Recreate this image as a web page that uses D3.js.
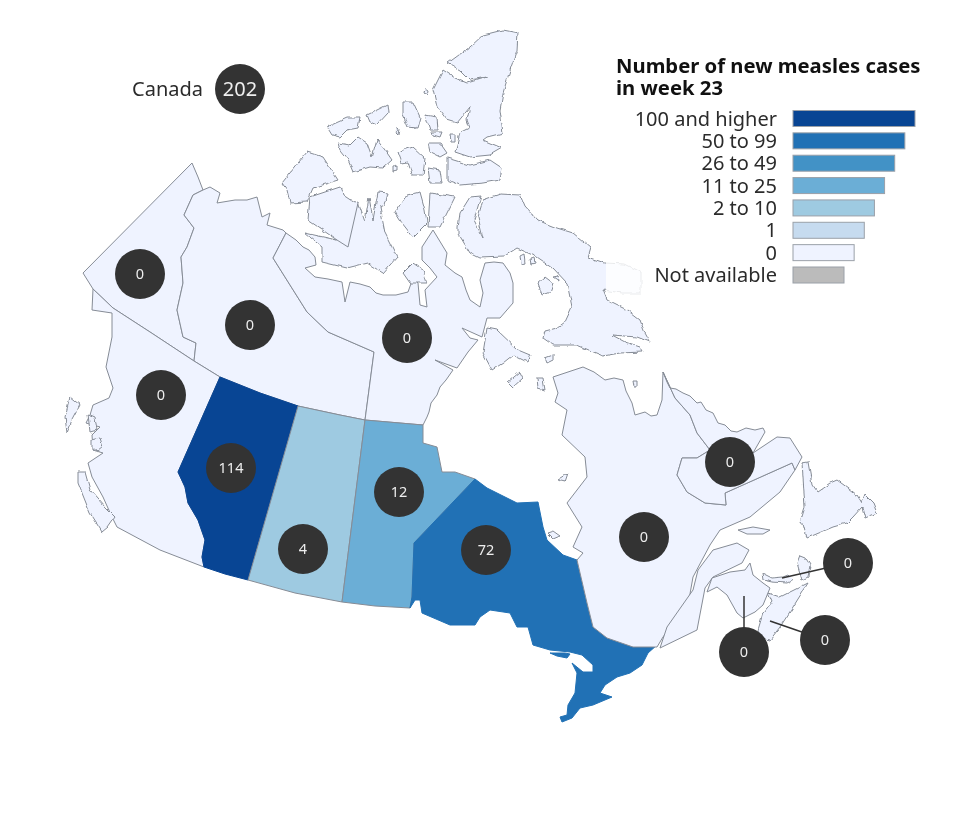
<!DOCTYPE html>
<html>
<head>
<meta charset="utf-8">
<style>
  html, body { margin: 0; padding: 0; background: #fff; }
  text { font-family: "Noto Sans", "Open Sans", sans-serif; }
  svg { filter: blur(0.35px); }
</style>
</head>
<body>
<div id="canvas"></div>
<script src="https://d3js.org/d3.v7.min.js"></script>
<script>
// cases per province
const provinces = ["Yukon", "Northwest Territories", "Nunavut", "British Columbia", "Alberta", "Saskatchewan", "Manitoba", "Ontario", "Quebec", "Newfoundland and Labrador", "Nova Scotia", "New Brunswick", "Prince Edward Island"]
const provinceCases = [0, 0, 0, 0, 114, 4, 12, 72, 0, 0, 0, 0, 0]
const canadaCases = 202

const legendTitle = ["Number of new measles cases", "in week 23"]
const legendLabels = ["100 and higher", "50 to 99", "26 to 49", "11 to 25", "2 to 10", "1", "0", "Not available"]
const legendColors = ["#084594", "#2171b5", "#4292c6", "#6baed6", "#9ecae1", "#c6dbef", "#eff3ff", "#bbbbbb"]
const caseBreaks = [1, 2, 11, 26, 50, 100]

// map outlines, traced in map units
const yukon = [[[192,163],[198,177],[203,190],[193,195],[184,215],[194,228],[187,247],[181,257],[183,283],[177,310],[183,337],[196,343],[194,361],[150,332],[113,308],[93,289],[83,273]]]
const nwt = [
  [[203,190],[210,187],[220,193],[217,203],[235,200],[247,200],[257,197],[262,217],[270,213],[267,225],[283,230],[286,233],[273,258],[307,312],[328,332],[374,352],[365,420],[340,415],[298,406],[260,393],[220,377],[194,361],[196,343],[183,337],[177,310],[183,283],[181,257],[187,247],[194,228],[184,215],[193,195]],
  [[282,183],[307,152],[323,157],[338,180],[313,188],[307,202],[290,203],[287,190]]
]
const nunavut = [
  [[286,233],[296,240],[303,247],[309,250],[315,257],[316,265],[305,268],[315,277],[328,279],[342,282],[345,302],[350,282],[360,284],[370,287],[376,293],[383,295],[396,295],[408,292],[413,278],[418,283],[420,305],[427,307],[425,290],[437,277],[430,268],[422,260],[422,247],[433,230],[447,253],[445,265],[455,273],[462,277],[466,290],[470,300],[480,307],[483,293],[480,280],[485,263],[494,262],[503,263],[510,273],[513,283],[513,303],[500,318],[487,318],[482,337],[462,328],[470,338],[478,340],[468,352],[457,368],[435,360],[453,370],[446,380],[440,387],[437,395],[431,403],[429,412],[427,417],[423,425],[365,420],[374,352],[328,332],[307,312],[273,258]],
  [[310,197],[340,187],[343,195],[355,203],[358,202],[365,222],[369,197],[373,220],[378,192],[388,193],[385,205],[380,207],[385,233],[397,257],[383,273],[367,263],[347,268],[322,262],[322,247],[305,233],[337,240],[308,220]],
  [[327,127],[347,118],[360,118],[358,128],[347,130],[340,137],[332,135]],
  [[338,143],[350,145],[358,137],[367,143],[372,157],[377,140],[385,150],[392,160],[383,168],[370,167],[353,172],[348,160],[340,150]],
  [[367,115],[387,105],[388,113],[377,125],[370,122]],
  [[403,102],[413,102],[420,117],[417,128],[408,127],[403,115]],
  [[425,115],[437,117],[438,130],[430,130]],
  [[432,132],[442,132],[440,137],[433,135]],
  [[398,152],[413,147],[425,158],[423,175],[412,175],[408,162],[402,163]],
  [[428,143],[440,143],[447,153],[440,157],[430,152]],
  [[447,158],[470,165],[490,160],[502,168],[500,180],[483,183],[460,185],[447,180]],
  [[428,168],[440,170],[442,183],[430,183]],
  [[470,47],[483,35],[503,30],[518,33],[517,50],[510,70],[503,93],[500,110],[503,133],[487,137],[483,140],[502,148],[490,155],[470,157],[455,152],[460,133],[470,128],[467,120],[470,107],[457,123],[447,120],[437,107],[433,90],[443,70],[455,78],[467,83],[487,77],[470,80],[460,70],[448,63],[463,52]],
  [[425,88],[428,90],[427,95],[424,93]],
  [[397,127],[399,129],[398,135],[396,133]],
  [[393,166],[397,165],[397,170],[393,171]],
  [[450,135],[455,135],[455,141],[451,141]],
  [[395,212],[407,195],[420,192],[425,210],[427,223],[413,237],[402,223]],
  [[430,193],[455,197],[440,227],[428,227]],
  [[403,273],[413,263],[423,270],[427,283],[410,283]],
  [[458,227],[460,213],[470,197],[481,196],[474,220],[483,238],[478,217],[483,200],[500,194],[520,195],[525,207],[537,220],[557,228],[573,233],[590,247],[587,257],[605,263],[625,264],[641,272],[641,293],[622,293],[603,290],[607,300],[627,310],[640,320],[645,333],[650,342],[637,337],[612,335],[625,342],[640,347],[643,352],[620,353],[603,356],[577,345],[553,345],[543,338],[545,331],[557,328],[565,322],[572,307],[567,283],[553,268],[537,257],[517,248],[503,257],[480,258],[470,253],[458,233]],
  [[538,283],[545,277],[553,283],[550,292],[542,295]],
  [[487,328],[497,330],[518,350],[530,355],[527,362],[513,355],[503,363],[492,370],[483,353]],
  [[537,378],[543,378],[545,390],[538,388]],
  [[508,382],[520,372],[523,378],[513,387]],
  [[545,358],[553,355],[553,360],[547,363]],
  [[557,480],[568,473],[565,482]],
  [[547,533],[553,531],[560,536],[553,539]],
  [[633,381],[637,381],[637,387],[634,387]],
  [[520,256],[524,254],[525,263],[521,264]],
  [[530,259],[534,258],[535,263],[531,264]],
  [[553,277],[558,276],[559,281]]
]
const britishColumbia = [
  [[220,377],[194,361],[150,332],[113,308],[93,289],[92,310],[112,313],[112,337],[106,367],[113,388],[109,398],[93,405],[90,415],[86,423],[100,427],[92,435],[93,450],[103,453],[88,463],[92,477],[103,497],[112,517],[117,527],[160,550],[204,567],[202,557],[205,540],[198,520],[188,503],[185,487],[178,472]],
  [[78,472],[85,472],[90,490],[105,507],[115,517],[108,527],[102,532],[90,513],[78,483]],
  [[70,397],[80,405],[72,420],[67,433],[65,417]],
  [[88,414],[95,417],[97,430],[90,432]],
  [[92,440],[100,438],[103,447],[97,452],[92,448]]
]
const alberta = [[[220,377],[260,393],[298,406],[248,580],[225,574],[204,567],[202,557],[205,540],[198,520],[188,503],[185,487],[178,472]]]
const saskatchewan = [[[298,406],[340,415],[365,420],[342,602],[295,593],[248,580]]]
const manitoba = [[[365,420],[423,425],[423,443],[437,447],[442,472],[455,472],[475,479],[414,543],[412,597],[410,608],[375,606],[342,602]]]
const ontario = [
  [[475,479],[487,488],[507,498],[517,503],[538,502],[543,527],[547,540],[563,555],[577,560],[587,603],[593,627],[607,638],[627,643],[647,642],[657,639],[657,645],[648,653],[642,665],[630,673],[617,677],[605,685],[600,693],[612,697],[593,705],[580,708],[572,718],[562,722],[560,717],[567,715],[568,705],[575,693],[577,673],[572,663],[583,672],[593,672],[593,665],[582,655],[570,652],[550,650],[533,645],[528,627],[517,627],[510,613],[490,610],[480,617],[475,625],[450,625],[422,613],[420,600],[415,600],[410,608],[412,597],[414,543]],
  [[550,653],[565,653],[570,654],[567,658],[557,656]]
]
const quebec = [
  [[577,560],[583,553],[573,547],[582,527],[567,503],[587,477],[585,457],[562,435],[567,410],[555,402],[558,393],[553,377],[583,367],[594,372],[605,380],[614,378],[623,380],[626,391],[632,403],[635,415],[645,412],[651,416],[657,415],[662,400],[663,372],[675,398],[690,415],[697,433],[710,450],[697,458],[682,458],[677,475],[687,492],[705,503],[726,505],[725,493],[792,463],[795,470],[780,492],[750,517],[720,530],[710,545],[693,577],[688,605],[663,637],[657,647],[633,647],[607,638],[593,627],[587,603]],
  [[660,648],[667,627],[693,590],[698,570],[713,550],[737,543],[749,550],[742,563],[713,577],[705,588],[697,630]],
  [[738,530],[753,527],[770,530],[763,534],[747,534]]
]
const labrador = [
  [[663,372],[667,382],[670,388],[676,389],[683,393],[690,396],[697,403],[701,402],[706,410],[713,413],[716,419],[718,423],[725,425],[731,431],[737,432],[746,428],[755,430],[763,428],[765,432],[753,453],[777,437],[790,438],[802,457],[795,470],[792,463],[725,493],[726,505],[705,503],[687,492],[677,475],[682,458],[697,458],[710,450],[697,433],[690,415],[675,398]],
  [[802,463],[808,462],[812,485],[817,492],[830,483],[837,480],[848,488],[857,495],[862,503],[865,495],[873,503],[877,513],[865,518],[862,507],[853,517],[847,523],[833,527],[807,538],[803,523],[800,523],[805,507]]
]
const novaScotia = [
  [[768,593],[780,597],[808,583],[793,607],[780,627],[770,640],[763,638],[758,630],[763,613],[772,602]],
  [[797,563],[800,555],[805,557],[810,565],[808,577],[802,580]]
]
const newBrunswick = [[[712,578],[730,572],[745,570],[750,563],[753,575],[763,583],[770,588],[763,605],[755,612],[743,618],[737,613],[727,595],[717,587],[707,592]]]
const princeEdward = [[[762,573],[772,578],[783,577],[788,575],[793,580],[787,583],[772,582],[763,580]]]
// the territorial line that crosses Victoria Island
const victoriaBorder = [[358,203],[348,247],[337,240]]

const provinceOutlines = [yukon, nwt, nunavut, britishColumbia, alberta, saskatchewan, manitoba, ontario, quebec, labrador, novaScotia, newBrunswick, princeEdward]
// provinces whose every outline is open coast, the others only have it on their islands
const allCoast = ["Nova Scotia", "Prince Edward Island"]
const noRoughCoast = ["Ontario", "Quebec"]

// bubble anchors and leader ends, map units
const bubbleX = [140, 250, 407, 161, 231, 303, 399, 486, 644, 730, 825, 744, 848]
const bubbleY = [274, 325, 338, 395, 468, 549, 492, 550, 537, 462, 640, 652, 563]
const leaderX = [null, null, null, null, null, null, null, null, null, null, 770, 744, 782]
const leaderY = [null, null, null, null, null, null, null, null, null, null, 621, 596, 578]

const width = 959
const height = 813

const mapX = d3.scaleLinear().domain([0, 959]).range([0, width])
const mapY = d3.scaleLinear().domain([0, 813]).range([0, height])
const colorScale = d3.scaleThreshold().domain(caseBreaks).range(legendColors.slice(0, 7).reverse())
const outline = d3.line().x(d => mapX(d[0])).y(d => mapY(d[1]))

const svg = d3.select("#canvas")
    .append("svg")
    .attr("width", width)
    .attr("height", height)
    .style("display", "block")

// crinkle for the island coasts
const rough = svg.append("defs").append("filter")
    .attr("id", "rough")
    .attr("filterUnits", "userSpaceOnUse")
    .attr("x", 0).attr("y", 0).attr("width", width).attr("height", height)
rough.append("feTurbulence")
    .attr("type", "fractalNoise")
    .attr("baseFrequency", 0.13)
    .attr("numOctaves", 2)
    .attr("seed", 4)
    .attr("result", "noise")
rough.append("feDisplacementMap")
    .attr("in", "SourceGraphic")
    .attr("in2", "noise")
    .attr("scale", 4)
    .attr("xChannelSelector", "R")
    .attr("yChannelSelector", "G")

svg.append("rect").attr("width", width).attr("height", height).attr("fill", "#fff")

const regions = svg.selectAll("g.province")
    .data(provinces)
    .enter()
    .append("g")
    .attr("class", "province")
    .attr("fill", (name, i) => colorScale(provinceCases[i]))
    .attr("stroke", (name, i) => provinceCases[i] >= 50 ? colorScale(provinceCases[i]) : "#868c96")
    .attr("stroke-width", 1)
    .attr("stroke-linejoin", "round")

regions.selectAll("path")
    .data((name, i) => provinceOutlines[i].map((ring, j) => ({
        ring: ring,
        coast: !noRoughCoast.includes(name) && (j > 0 || allCoast.includes(name))
    })))
    .enter()
    .append("path")
    .attr("d", d => outline(d.ring) + "Z")
    .attr("filter", d => d.coast ? "url(#rough)" : null)

svg.append("path")
    .attr("d", outline(victoriaBorder))
    .attr("fill", "none")
    .attr("stroke", "#868c96")

// the label halo that washes out the east of Baffin Island
svg.append("rect")
    .attr("x", mapX(606))
    .attr("y", mapY(258))
    .attr("width", mapX(644) - mapX(606))
    .attr("height", mapY(296) - mapY(258))
    .attr("fill", "#fff")
    .attr("opacity", 0.82)

// leader lines for the small maritime provinces
provinces.forEach((name, i) => {
    if (leaderX[i] === null) return
    svg.append("line")
        .attr("x1", mapX(bubbleX[i]))
        .attr("y1", mapY(bubbleY[i]))
        .attr("x2", mapX(leaderX[i]))
        .attr("y2", mapY(leaderY[i]))
        .attr("stroke", "#333")
        .attr("stroke-width", 1.5)
})

svg.selectAll("circle.bubble")
    .data(provinces)
    .enter()
    .append("circle")
    .attr("class", "bubble")
    .attr("cx", (name, i) => mapX(bubbleX[i]))
    .attr("cy", (name, i) => mapY(bubbleY[i]))
    .attr("r", 25)
    .attr("fill", "#333")

svg.selectAll("text.count")
    .data(provinces)
    .enter()
    .append("text")
    .attr("class", "count")
    .attr("x", (name, i) => mapX(bubbleX[i]))
    .attr("y", (name, i) => mapY(bubbleY[i]))
    .attr("dy", "0.36em")
    .attr("text-anchor", "middle")
    .attr("font-size", 14.5)
    .attr("fill", "#eeeeee")
    .text((name, i) => provinceCases[i])

// national total
svg.append("circle").attr("cx", 240).attr("cy", 89).attr("r", 25).attr("fill", "#333")
svg.append("text").attr("x", 240).attr("y", 89).attr("dy", "0.36em")
    .attr("text-anchor", "middle").attr("font-size", 20).attr("fill", "#eeeeee").text(canadaCases)
svg.append("text").attr("x", 203).attr("y", 89).attr("dy", "0.36em")
    .attr("text-anchor", "end").attr("font-size", 20).attr("fill", "#2b2b2b").text("Canada")

// legend
svg.selectAll("text.legend-title")
    .data(legendTitle)
    .enter()
    .append("text")
    .attr("class", "legend-title")
    .attr("x", 616)
    .attr("y", (d, i) => 73 + i * 22)
    .attr("font-size", 20.25)
    .attr("font-weight", 700)
    .attr("fill", "#111")
    .text(d => d)

const legendY = d3.scalePoint().domain(legendLabels).range([118.5, 275])
const legendLength = d3.scaleLinear().domain([0, legendLabels.length - 1]).range([122, 51])

svg.selectAll("rect.legend-bar")
    .data(legendLabels)
    .enter()
    .append("rect")
    .attr("class", "legend-bar")
    .attr("x", 793)
    .attr("y", d => legendY(d) - 8)
    .attr("width", (d, i) => legendLength(i))
    .attr("height", 16)
    .attr("fill", (d, i) => legendColors[i])
    .attr("stroke", "#9aa0a8")
    .attr("stroke-width", 1)

svg.selectAll("text.legend-label")
    .data(legendLabels)
    .enter()
    .append("text")
    .attr("class", "legend-label")
    .attr("x", 777)
    .attr("y", d => legendY(d))
    .attr("dy", "0.36em")
    .attr("text-anchor", "end")
    .attr("font-size", 20)
    .attr("fill", "#2b2b2b")
    .text(d => d)
</script>
</body>
</html>
